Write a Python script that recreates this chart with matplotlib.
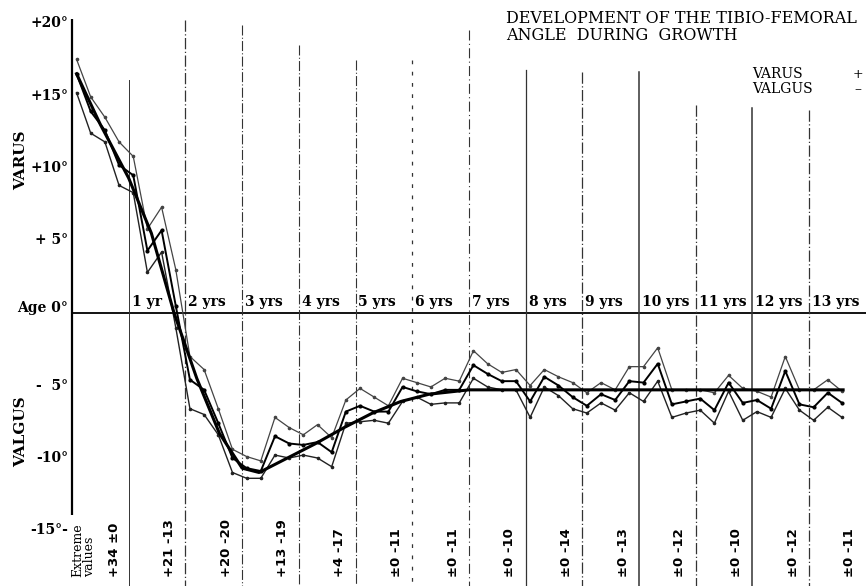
import matplotlib
matplotlib.use("Agg")
import matplotlib.pyplot as plt

# ---------------- data ----------------
ages = [0.08, 0.33, 0.58, 0.83, 1.08, 1.33, 1.58, 1.83, 2.08, 2.33, 2.58, 2.83,
        3.08, 3.33, 3.58, 3.83, 4.08, 4.33, 4.58, 4.83, 5.08, 5.33, 5.58, 5.83,
        6.08, 6.33, 6.58, 6.83, 7.08, 7.33, 7.58, 7.83, 8.08, 8.33, 8.58, 8.83,
        9.08, 9.33, 9.58, 9.83, 10.08, 10.33, 10.58, 10.83, 11.08, 11.33, 11.58,
        11.83, 12.08, 12.33, 12.58, 12.83, 13.08, 13.33, 13.58]

upper = [17.5, 14.9, 13.5, 11.8, 10.8, 5.8, 7.3, 3.0, -3.0, -3.9, -6.6, -9.4,
         -9.9, -10.2, -7.2, -7.9, -8.4, -7.7, -8.6, -6.0, -5.2, -5.8, -6.4, -4.5,
         -4.8, -5.1, -4.5, -4.7, -2.6, -3.5, -4.1, -3.9, -5.0, -3.9, -4.4, -4.8,
         -5.5, -4.8, -5.3, -3.7, -3.7, -2.4, -5.3, -5.3, -5.3, -5.5, -4.3,
         -5.2, -5.4, -5.8, -3.0, -5.3, -5.3, -4.6, -5.4]

mean = [16.5, 13.9, 12.6, 10.2, 9.5, 4.3, 5.7, 0.5, -4.6, -5.3, -7.6, -10.0,
        -10.7, -10.9, -8.5, -9.0, -9.1, -8.9, -9.6, -6.8, -6.4, -6.8, -6.8, -5.1,
        -5.4, -5.6, -5.3, -5.3, -3.6, -4.2, -4.7, -4.7, -6.1, -4.4, -5.0, -5.8,
        -6.4, -5.6, -6.0, -4.7, -4.8, -3.5, -6.3, -6.1, -5.9, -6.7, -4.8,
        -6.2, -6.0, -6.6, -4.0, -6.3, -6.5, -5.5, -6.2]

lower = [15.2, 12.4, 11.8, 8.8, 8.3, 2.8, 4.2, -1.0, -6.6, -7.0, -8.4, -11.0,
         -11.4, -11.4, -9.8, -10.0, -9.8, -10.0, -10.6, -7.6, -7.5, -7.4, -7.6, -6.1,
         -5.8, -6.3, -6.2, -6.2, -4.5, -5.1, -5.3, -5.3, -7.2, -5.1, -5.7, -6.6,
         -6.9, -6.2, -6.7, -5.5, -6.1, -4.7, -7.2, -6.9, -6.7, -7.6, -5.4,
         -7.4, -6.8, -7.2, -5.2, -6.7, -7.4, -6.5, -7.2]

trend_ages = [0.08, 0.5, 1.0, 1.4, 1.8, 2.2, 2.6, 3.0, 3.3, 3.8, 4.3, 4.8, 5.3,
              5.8, 6.3, 7.0, 13.6]
trend_vals = [16.5, 13.0, 9.3, 5.5, 0.0, -4.5, -8.3, -10.7, -11.0, -10.0, -9.0,
              -7.9, -6.9, -6.1, -5.6, -5.3, -5.3]

years = list(range(1, 14))
year_labels = ["1 yr"] + [f"{y} yrs" for y in range(2, 14)]
extreme_labels = ["+34 ±0", "+21 -13", "+20 -20", "+13 -19", "+4 -17", "±0 -11",
                  "±0 -11", "±0 -10", "±0 -14", "±0 -13", "±0 -12", "±0 -10",
                  "±0 -12", "±0 -11"]
ytick_vals = [20, 15, 10, 5, 0, -5, -10, -15]
ytick_labels = ["+20°", "+15°", "+10°", "+ 5°", "Age 0°", "-  5°", "-10°", "-15°-"]

# ---------------- geometry helpers ----------------
W, H = 866, 586
X0, XS = 72.0, 56.7      # pixel of age 0, pixels per year
Y0, YS = 313.0, 14.5     # pixel of 0 deg, pixels per degree


def px2x(px):
    return (px - X0) / XS


def py2y(py):
    return (Y0 - py) / YS


fig = plt.figure(figsize=(W / 100, H / 100), dpi=100)
fig.patch.set_facecolor("white")
ax = fig.add_axes([0, 0, 1, 1])
ax.set_xlim(px2x(0), px2x(W))
ax.set_ylim(py2y(H), py2y(0))
ax.axis("off")

serif = "DejaVu Serif"
sans = "DejaVu Sans"

# axes lines
ax.plot([0, 0], [20.3, py2y(515)], color="black", lw=1.6, solid_capstyle="butt")
ax.plot([0, px2x(W)], [0, 0], color="black", lw=1.3)

# vertical year lines
tops_px = [80, 20, 25, 45, 60, 60, 30, 70, 72, 72, 105, 108, 110]
styles = ["-", (0, (9, 2, 1, 2)), (0, (9, 2, 1, 2)), (0, (9, 2, 1, 2)),
          (0, (9, 2, 1, 2)), (0, (3, 6)), (0, (9, 3, 1, 3)), "-", (0, (9, 2, 1, 2)),
          "-", (0, (9, 2, 1, 2)), "-", (0, (9, 2, 1, 2))]
widths = [0.7, 0.9, 0.8, 0.8, 0.8, 0.9, 0.8, 0.9, 0.9, 1.1, 0.9, 1.1, 0.9]
for yr, tp, ls, lw in zip(years, tops_px, styles, widths):
    ax.plot([yr, yr], [py2y(tp), py2y(H)], color="#333333", lw=lw, ls=ls)

# data series
ax.plot(ages, upper, color="#444444", lw=0.9, marker="o", ms=1.6)
ax.plot(ages, lower, color="#222222", lw=1.0, marker="o", ms=1.6)
ax.plot(ages, mean, color="black", lw=1.4, marker="o", ms=2.0)
ax.plot(trend_ages, trend_vals, color="black", lw=2.2)

# y tick labels
for v, lab in zip(ytick_vals, ytick_labels):
    yy = v + (0.35 if v == 0 else 0)
    ax.text(px2x(68), yy, lab, ha="right", va="center", fontsize=10,
            family=serif, fontweight="bold")

# axis words
ax.text(px2x(21), py2y(160), "VARUS", rotation=90, ha="center", va="center",
        fontsize=11, family=serif, fontweight="bold")
ax.text(px2x(21), py2y(432), "VALGUS", rotation=90, ha="center", va="center",
        fontsize=11, family=serif, fontweight="bold")

# year labels
for yr, lab in zip(years, year_labels):
    ax.text(yr + 3 / XS, py2y(309), lab, ha="left", va="bottom", fontsize=10,
            family=serif, fontweight="bold")

# extreme values labels
ax.text(px2x(78), py2y(577), "Extreme", rotation=90, ha="center", va="bottom",
        fontsize=9, family=serif)
ax.text(px2x(90), py2y(577), "values", rotation=90, ha="center", va="bottom",
        fontsize=9, family=serif)
for i, lab in enumerate(extreme_labels):
    xx = px2x(115) if i == 0 else i + 0.72
    ax.text(xx, py2y(577), lab, rotation=90, ha="center", va="bottom",
            fontsize=9.5, family=sans, fontweight="bold")

# title and legend text
ax.text(px2x(506), py2y(10), "DEVELOPMENT OF THE TIBIO-FEMORAL", ha="left",
        va="top", fontsize=11.5, family=serif)
ax.text(px2x(506), py2y(27), "ANGLE  DURING  GROWTH", ha="left", va="top",
        fontsize=11.5, family=serif)
ax.text(px2x(752), py2y(74), "VARUS", ha="left", va="center", fontsize=10,
        family=serif)
ax.text(px2x(752), py2y(89), "VALGUS", ha="left", va="center", fontsize=10,
        family=serif)
ax.text(px2x(858), py2y(74), "+", ha="center", va="center", fontsize=9,
        family=serif)
ax.text(px2x(858), py2y(89), "–", ha="center", va="center", fontsize=10,
        family=serif)

fig.savefig("out.png", dpi=100, facecolor="white")
